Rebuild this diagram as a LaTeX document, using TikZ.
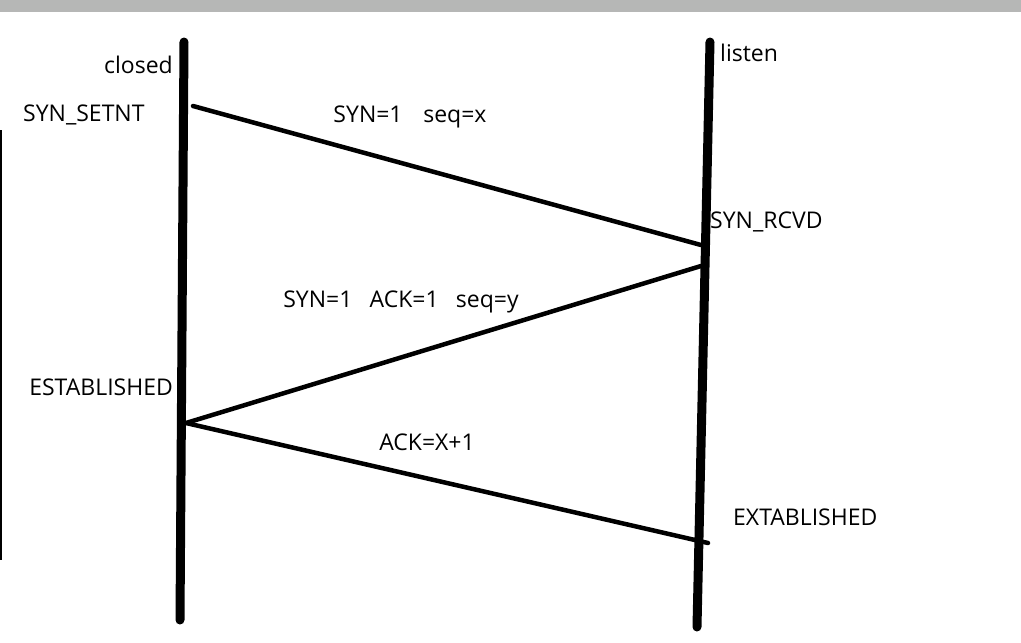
\documentclass[tikz,border=0pt]{standalone}
\usepackage{fontspec}
\setmainfont{Open Sans}
\usepackage{xcolor}
\usetikzlibrary{calc,positioning}
\definecolor{barGray}{RGB}{182,183,182}

\tikzset{
    life/.style={line width=9pt, line cap=round},
    msg/.style={line width=4.5pt, line cap=round},
    lbl/.style={font=\fontsize{23}{27}\selectfont, inner sep=0pt},
}

\begin{document}
\begin{tikzpicture}[x=1pt,y=-1pt]

    % Frame
    \useasboundingbox (0,0) rectangle (1021,643);
    \fill[white] (0,0) rectangle (1021,643);
    \fill[barGray] (0,0) rectangle (1021,12);
    \draw[line width=1.5pt] (0.75,130) -- (0.75,560);

    % Lifelines
    \coordinate (cliTop) at (184,42);
    \coordinate (cliBot) at (180,620);
    \coordinate (srvTop) at (710,42);
    \coordinate (srvBot) at (697,627);
    \draw[life] (cliTop) -- (cliBot);
    \draw[life] (srvTop) -- (srvBot);

    % Messages
    \coordinate (synA) at (193,106);
    \coordinate (synB) at (701,245);
    \coordinate (ackA) at (701,266);
    \coordinate (ackB) at (186,423);
    \coordinate (finB) at (708,543);
    \draw[msg] (synA) -- (synB);
    \draw[msg] (ackA) -- (ackB);
    \draw[msg] (ackB) -- (finB);

    % States
    \node[lbl, anchor=east] (closed) at (173,65) {closed};
    \node[lbl, anchor=west] (synSent) at (23,115) {SYN\_SETNT};
    \node[lbl, anchor=west] (listen) at (720,53) {listen};
    \node[lbl, anchor=west] (synRcvd) at (710,222) {SYN\_RCVD};
    \node[lbl, anchor=east] (estCli) at (173,387) {ESTABLISHED};
    \node[lbl, anchor=west] (estSrv) at (733,517) {EXTABLISHED};

    % Segment labels
    \node[lbl] (segOne) at (410,117) {SYN=1\hspace{0.9em}seq=x};
    \node[lbl] (segTwo) at (401,302) {SYN=1\hspace{0.75em}ACK=1\hspace{0.75em}seq=y};
    \node[lbl] (segThree) at (427,442) {ACK=X+1};

\end{tikzpicture}
\end{document}
